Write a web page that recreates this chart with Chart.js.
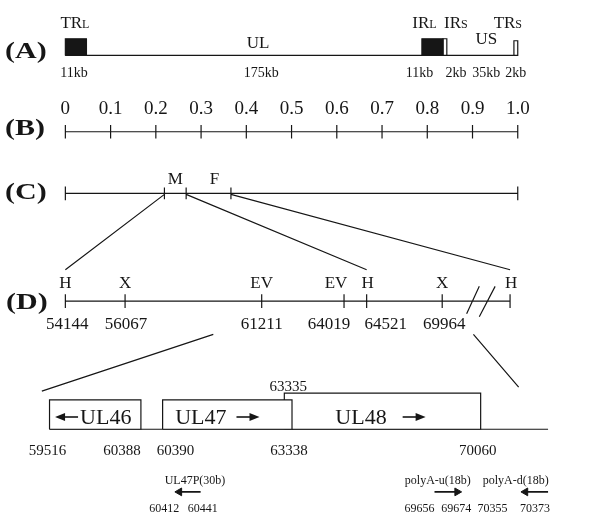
<!DOCTYPE html>
<html>
<head>
<meta charset="utf-8">
<script src="https://cdn.jsdelivr.net/npm/chart.js@4.4.0/dist/chart.umd.min.js"></script>
<style>
    html, body { margin: 0; padding: 0; background: #fff; }
</style>
</head>
<body>
<canvas id="map" width="589" height="515"></canvas>
<script>
// (A) genome structure, segment lengths in kb
var segmentNames = ["TRL", "UL", "IRL", "IRS", "US", "TRS"];
var segmentKb = [11, 175, 11, 2, 35, 2];

// (B) map units
var mapTicks = [0, 0.1, 0.2, 0.3, 0.4, 0.5, 0.6, 0.7, 0.8, 0.9, 1.0];
var mapTickLabels = ["0", "0.1", "0.2", "0.3", "0.4", "0.5", "0.6", "0.7", "0.8", "0.9", "1.0"];

// (C) fragments M and F, bounds in map units
var fragmentNames = ["M", "F"];
var fragmentBounds = [0.219, 0.267, 0.366];

// (D) restriction sites, drawn position (schematic, map units) and coordinate
var siteNames = ["H", "X", "EV", "EV", "H", "X", "H"];
var siteCoords = ["54144", "56067", "61211", "64019", "64521", "69964", ""];
var sitePos = [0, 0.132, 0.434, 0.616, 0.666, 0.833, 0.983];
var breakPos = 0.918;

// enlarged region: genes
var geneNames = ["UL46", "UL47", "UL48"];
var geneStart = [59516, 60390, 63335];
var geneEnd = [60388, 63338, 70060];
var geneStrand = [-1, 1, 1];
var geneFrom = [-0.035, 0.215, 0.484];
var geneTo = [0.167, 0.501, 0.918];
var regionEnds = [-0.035, 1.067];

// primers
var primerNames = ["UL47P(30b)", "polyA-u(18b)", "polyA-d(18b)"];
var primerStart = [60412, 69656, 70355];
var primerEnd = [60441, 69674, 70373];
var primerStrand = [-1, 1, -1];
var primerFrom = [0.252, 0.816, 1.017];
var primerTo = [0.299, 0.866, 1.067];

// zoom lines D -> enlarged region
var zoomFromD = [0.327, 0.902];
var zoomToE = [-0.052, 1.002];

// ---- layout ----
var W = 589, H = 515;
var MAP_LEFT = 61, MAP_RIGHT = 522;
var row = { a: 51, b: 129, c: 192, d: 302, e: 433, primer: 497 };
var FONT = '"Liberation Serif", "Times New Roman", serif';
var INK = "#161616";

var totalKb = segmentKb.reduce(function (s, v) { return s + v; }, 0);
var cumKb = [];
segmentKb.reduce(function (s, v, i) { cumKb[i] = s; return s + v; }, 0);

function pt(x, y) { return { x: x, y: y }; }
function segs(list) {
    var out = [];
    list.forEach(function (s) {
        out.push(pt(s[0], s[1]), pt(s[2], s[3]), pt(s[2], null));
    });
    return out;
}
function rect(x0, x1, top, bottom) {
    return [pt(x0, bottom), pt(x0, top), pt(x1, top), pt(x1, bottom), pt(x0, bottom)];
}

var lines = [];
lines.push([0, row.a, 1, row.a]);
lines.push([0, row.b, 1, row.b]);
mapTicks.forEach(function (t) { lines.push([t, row.b - 7, t, row.b + 7]); });
lines.push([0, row.c, 1, row.c]);
lines.push([0, row.c - 7, 0, row.c + 7], [1, row.c - 7, 1, row.c + 7]);
fragmentBounds.forEach(function (f) { lines.push([f, row.c - 6, f, row.c + 6]); });
lines.push([sitePos[0], row.d, sitePos[sitePos.length - 1], row.d]);
sitePos.forEach(function (p) { lines.push([p, row.d - 7, p, row.d + 7]); });
lines.push([breakPos - 0.031, row.d + 13, breakPos - 0.003, row.d - 15]);
lines.push([breakPos - 0.003, row.d + 16, breakPos + 0.032, row.d - 15]);
// C -> D
lines.push([fragmentBounds[0], row.c + 1, sitePos[0], row.d - 32]);
lines.push([fragmentBounds[1], row.c + 1, sitePos[4], row.d - 32]);
lines.push([fragmentBounds[2], row.c + 1, sitePos[6], row.d - 32]);
// D -> enlarged region
lines.push([zoomFromD[0], row.d + 34, zoomToE[0], row.e - 39]);
lines.push([zoomFromD[1], row.d + 34, zoomToE[1], row.e - 43]);
lines.push([regionEnds[0], row.e, regionEnds[1], row.e]);

var datasets = [];
datasets.push({
    data: segs(lines), borderColor: INK, borderWidth: 1.2, fill: false, order: 20
});

// genome repeats as boxes
segmentNames.forEach(function (name, i) {
    if (name.length < 3) return;
    var x0 = cumKb[i] / totalKb, x1 = (cumKb[i] + segmentKb[i]) / totalKb;
    var small = name.charAt(2) === "S";
    var top = name === "TRS" ? row.a - 15 : row.a - 17;
    datasets.push({
        data: rect(x0, x1, top, row.a),
        borderColor: INK, borderWidth: 1.2,
        backgroundColor: small ? "#fff" : INK,
        fill: "shape", order: 5
    });
});

// gene boxes, UL48 sits behind UL47
var geneBoxH = [30, 30, 37];
geneNames.forEach(function (g, i) {
    datasets.push({
        data: rect(geneFrom[i], geneTo[i], row.e - geneBoxH[i], row.e),
        borderColor: INK, borderWidth: 1.2, backgroundColor: "#fff",
        fill: "shape", order: 10 + i
    });
});

// primer arrows
primerNames.forEach(function (p, i) {
    var head = primerStrand[i] > 0 ? primerTo[i] : primerFrom[i];
    var tail = primerStrand[i] > 0 ? primerFrom[i] : primerTo[i];
    datasets.push({
        data: [pt(tail, row.primer), pt(head, row.primer)],
        borderColor: INK, borderWidth: 1.6, fill: false, order: 1,
        pointRadius: [0, 4.5], pointStyle: "triangle",
        pointRotation: primerStrand[i] > 0 ? 90 : -90,
        pointBackgroundColor: INK, pointBorderColor: INK, pointBorderWidth: 1
    });
});

// ---- labels ----
var aNameDx = [-1, 4, -8, 11, 6, -8];
var aNameY = [22, 42, 22, 22, 38, 22];
var aKbDx = [-2, 7, -13, 11, 6, 0];
var siteDx = [0, 0, 0, -8, 1, 0, 1];
var coordDx = [2, 1, 0, -15, 19, 2, 0];
var fragDx = [0, 6];
var geneGap = [2, 10, 16], geneDx = [-2, -10, -2];
var startDx = [-2, 13, 4], startAbove = [false, false, true];
var endDx = [-19, -3, -3];
var primerNameDx = [5, -8, -21], primerLeftDx = [-15, -15, -33], primerRightDx = [2, -1, -13];

function text(ctx, s, x, yc, size, opt) {
    opt = opt || {};
    ctx.font = (opt.bold ? "bold " : "") + size + "px " + FONT;
    ctx.textAlign = opt.align || "center";
    ctx.textBaseline = "alphabetic";
    if (opt.stretch) {
        ctx.save();
        ctx.translate(x, 0);
        ctx.scale(opt.stretch, 1);
        ctx.fillText(s, 0, yc + size * 0.34);
        ctx.restore();
    } else {
        ctx.fillText(s, x, yc + size * 0.34);
    }
}
function smallCap(ctx, main, sub, cx, yc, size, subSize) {
    ctx.font = size + "px " + FONT;
    var w1 = ctx.measureText(main).width;
    ctx.font = subSize + "px " + FONT;
    var w2 = ctx.measureText(sub).width;
    var left = cx - (w1 + w2) / 2;
    text(ctx, main, left, yc, size, { align: "left" });
    ctx.font = subSize + "px " + FONT;
    ctx.textAlign = "left";
    ctx.fillText(sub, left + w1, yc + size * 0.34);
}
function arrow(ctx, xTail, xHead, y) {
    var dir = xHead > xTail ? 1 : -1;
    ctx.beginPath();
    ctx.lineWidth = 1.6;
    ctx.moveTo(xTail, y);
    ctx.lineTo(xHead - dir * 7, y);
    ctx.stroke();
    ctx.beginPath();
    ctx.moveTo(xHead, y);
    ctx.lineTo(xHead - dir * 10, y - 4);
    ctx.lineTo(xHead - dir * 10, y + 4);
    ctx.closePath();
    ctx.fill();
}

var labelPlugin = {
    id: "mapLabels",
    afterDatasetsDraw: function (chart) {
        var ctx = chart.ctx, xs = chart.scales.x;
        function px(v) { return xs.getPixelForValue(v); }
        ctx.save();
        ctx.fillStyle = INK;
        ctx.strokeStyle = INK;

        var panel = { align: "left", bold: true, stretch: 1.25 };
        text(ctx, "(A)", 5, row.a - 1, 24, panel);
        text(ctx, "(B)", 5, row.b - 2, 24, panel);
        text(ctx, "(C)", 5, row.c - 1, 24, panel);
        text(ctx, "(D)", 6, row.d - 1, 24, panel);

        segmentNames.forEach(function (name, i) {
            var cx = px((cumKb[i] + segmentKb[i] / 2) / totalKb);
            if (name.length === 3) {
                smallCap(ctx, name.slice(0, 2), name.charAt(2), cx + aNameDx[i], aNameY[i], 17, 12);
            } else {
                text(ctx, name, cx + aNameDx[i], aNameY[i], 17);
            }
            text(ctx, segmentKb[i] + "kb", cx + aKbDx[i], 72, 14);
        });

        mapTicks.forEach(function (t, i) { text(ctx, mapTickLabels[i], px(t), 108, 19); });

        fragmentNames.forEach(function (f, i) {
            text(ctx, f, px((fragmentBounds[i] + fragmentBounds[i + 1]) / 2) + fragDx[i], 178, 17);
        });

        siteNames.forEach(function (s, i) {
            text(ctx, s, px(sitePos[i]) + siteDx[i], 282, 17);
            if (siteCoords[i]) text(ctx, siteCoords[i], px(sitePos[i]) + coordDx[i], 323, 17);
        });

        geneNames.forEach(function (g, i) {
            var x0 = px(geneFrom[i]), x1 = px(geneTo[i]);
            var cx = (x0 + x1) / 2 + geneDx[i], y = 417;
            ctx.font = "22px " + FONT;
            var w = ctx.measureText(g).width, L = 23;
            var left = cx - (w + geneGap[i] + L) / 2;
            if (geneStrand[i] < 0) {
                arrow(ctx, left + L, left, y);
                text(ctx, g, left + L + geneGap[i], y, 22, { align: "left" });
            } else {
                text(ctx, g, left, y, 22, { align: "left" });
                arrow(ctx, left + w + geneGap[i], left + w + geneGap[i] + L, y);
            }
            text(ctx, String(geneStart[i]), x0 + startDx[i], startAbove[i] ? 386 : 450, 15);
            text(ctx, String(geneEnd[i]), x1 + endDx[i], 450, 15);
        });

        primerNames.forEach(function (p, i) {
            var l = px(primerFrom[i]), r = px(primerTo[i]);
            text(ctx, p, (l + r) / 2 + primerNameDx[i], 480, 12);
            text(ctx, String(primerStart[i]), l + primerLeftDx[i], 508, 12);
            text(ctx, String(primerEnd[i]), r + primerRightDx[i], 508, 12);
        });
        ctx.restore();
    }
};

var span = MAP_RIGHT - MAP_LEFT;
new Chart(document.getElementById("map"), {
    type: "line",
    data: { datasets: datasets },
    options: {
        responsive: false,
        animation: false,
        events: [],
        layout: { padding: 0 },
        plugins: { legend: { display: false }, tooltip: { enabled: false } },
        elements: { point: { radius: 0 }, line: { tension: 0 } },
        scales: {
            x: { type: "linear", min: -MAP_LEFT / span, max: (W - MAP_LEFT) / span, display: false },
            y: { type: "linear", min: 0, max: H, reverse: true, display: false }
        }
    },
    plugins: [labelPlugin]
});
</script>
</body>
</html>
